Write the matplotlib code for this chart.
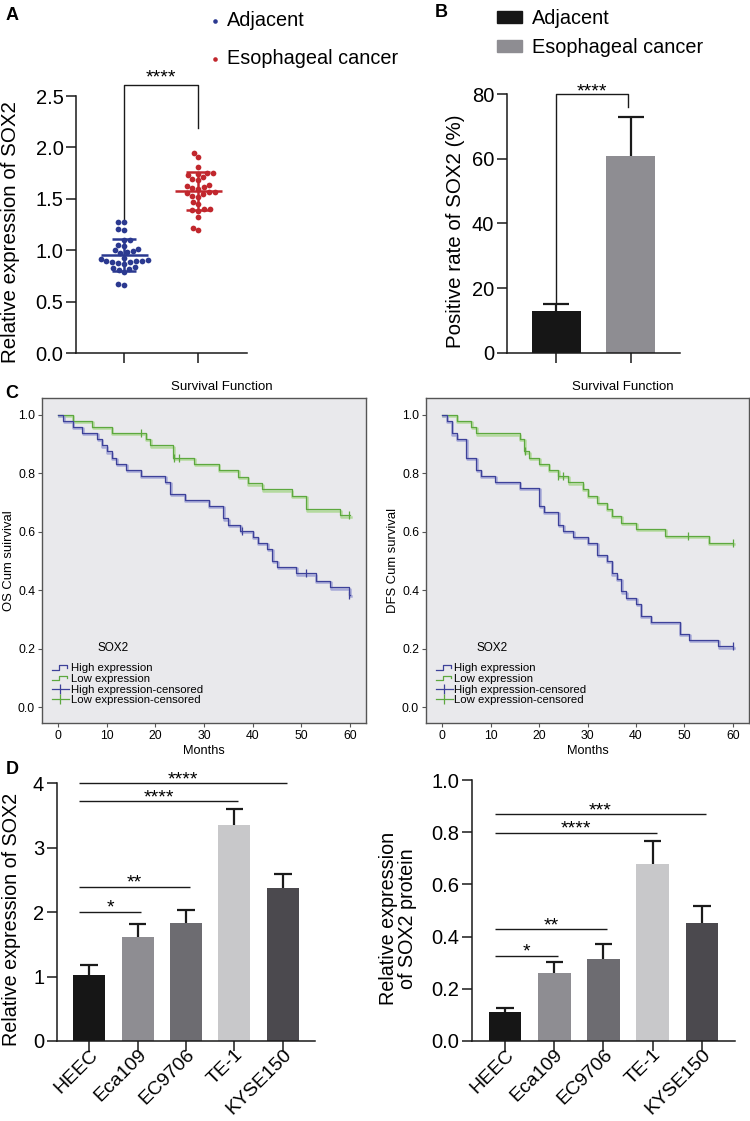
import numpy as np
import matplotlib
matplotlib.use("Agg")
import matplotlib.pyplot as plt
from matplotlib.lines import Line2D
from matplotlib.patches import Patch
from matplotlib.legend_handler import HandlerBase
from matplotlib import transforms

plt.rcParams["font.family"] = ["Liberation Sans", "DejaVu Sans"]

# ---- panel A: qPCR scatter ----
groups_a = ["Adjacent", "Esophageal cancer"]
adjacent_vals = [1.28, 1.28, 1.20, 1.21, 1.10, 1.10, 1.05, 1.04, 1.00, 0.99,
                 1.01, 0.98, 0.97, 0.93, 0.91, 0.90, 0.89, 0.90, 0.92, 0.90,
                 0.88, 0.89, 0.87, 0.83, 0.84, 0.81, 0.79, 0.82, 0.67, 0.66]
cancer_vals = [1.95, 1.91, 1.81, 1.75, 1.75, 1.73, 1.74, 1.71, 1.69, 1.68,
               1.64, 1.63, 1.62, 1.61, 1.60, 1.57, 1.56, 1.55, 1.57, 1.52,
               1.53, 1.47, 1.45, 1.40, 1.39, 1.38, 1.40, 1.32, 1.22, 1.20]

# ---- panel B: positive rate ----
rate_mean = [12.8, 60.9]
rate_err = [2.2, 12.2]

# ---- panel C: Kaplan-Meier (months, cumulative survival) ----
os_high_t = [0, 1, 3, 5, 8, 9, 10, 11, 12, 14, 17, 22, 23, 26, 31, 34, 35, 37.5,
             40, 41, 43, 44, 45, 49, 53, 56, 59.9]
os_high_s = [1.0, 0.979, 0.958, 0.938, 0.917, 0.896, 0.875, 0.854, 0.833, 0.813,
             0.792, 0.771, 0.729, 0.708, 0.688, 0.646, 0.625, 0.604, 0.583, 0.563,
             0.542, 0.500, 0.479, 0.458, 0.433, 0.410, 0.385]
os_high_cens = [37.8, 51, 59.9]
os_low_t = [0, 3, 7, 11, 18, 19, 23.7, 28, 33, 37, 39, 42, 48, 51, 58]
os_low_s = [1.0, 0.979, 0.958, 0.938, 0.917, 0.896, 0.854, 0.833, 0.812, 0.789,
            0.766, 0.745, 0.722, 0.677, 0.656]
os_low_cens = [17, 23.9, 24.9, 59.9]

dfs_high_t = [0, 1, 2, 3, 5, 7, 8, 11, 16, 20, 21, 24, 25, 27, 30, 32, 34, 35,
              36, 37, 38, 40, 41, 43, 49, 51, 57]
dfs_high_s = [1.0, 0.979, 0.937, 0.917, 0.854, 0.812, 0.792, 0.771, 0.75, 0.688,
              0.667, 0.625, 0.604, 0.583, 0.563, 0.521, 0.5, 0.458, 0.438, 0.396,
              0.375, 0.354, 0.313, 0.292, 0.25, 0.229, 0.208]
dfs_high_cens = [59.9]
dfs_low_t = [0, 3, 6, 7, 16, 17, 18, 20, 22, 24, 26, 29, 30, 32, 34, 35, 37, 40, 46, 55]
dfs_low_s = [1.0, 0.979, 0.958, 0.937, 0.917, 0.875, 0.854, 0.833, 0.812, 0.792,
             0.769, 0.746, 0.723, 0.70, 0.678, 0.655, 0.632, 0.609, 0.586, 0.563]
dfs_low_cens = [17.2, 24, 25, 50.8, 59.9]

# ---- panel D: cell lines ----
cell_lines = ["HEEC", "Eca109", "EC9706", "TE-1", "KYSE150"]
mrna_mean = [1.02, 1.62, 1.83, 3.35, 2.37]
mrna_err = [0.16, 0.20, 0.21, 0.25, 0.22]
mrna_sig = [(1, "*", 2.0), (2, "**", 2.39), (3, "****", 3.72), (4, "****", 4.0)]
prot_mean = [0.112, 0.262, 0.313, 0.677, 0.451]
prot_err = [0.013, 0.039, 0.057, 0.091, 0.068]
prot_sig = [(1, "*", 0.326), (2, "**", 0.428), (3, "****", 0.798), (4, "***", 0.868)]

bar_colors = ["#161616", "#8e8d92", "#6d6c71", "#c8c8ca", "#4b494e"]
BLUE_DOT, RED_DOT = "#2b3990", "#c1272d"
KM_BLUE, KM_BLUE_SH = "#3d4199", "#a7aad8"
KM_GREEN, KM_GREEN_SH = "#5da83f", "#b4da9e"

W, H = 750, 1121
fig = plt.figure(figsize=(W / 100, H / 100), dpi=100)


def px_axes(left, top, right, bottom):
    return fig.add_axes([left / W, 1 - bottom / H, (right - left) / W, (bottom - top) / H])


def prism_style(ax, fs=14.5):
    for side in ("top", "right"):
        ax.spines[side].set_visible(False)
    for side in ("left", "bottom"):
        ax.spines[side].set_linewidth(1.1)
        ax.spines[side].set_color("#1a1a1a")
    ax.tick_params(direction="out", length=7, width=1.1, labelsize=fs, pad=2, color="#1a1a1a")


def swarm(vals, ypu, xpu, d=5.6):
    vals = np.asarray(vals)
    offs = np.zeros(len(vals))
    placed = []
    cands = sorted(np.arange(-30, 31, 0.5), key=lambda c: (abs(c), c))
    for i in np.argsort(vals):
        y = vals[i] * ypu
        for c in cands:
            if all((c - px) ** 2 + (y - py) ** 2 >= d * d for px, py in placed):
                placed.append((c, y))
                offs[i] = c / xpu
                break
    return offs


def upper_err(ax, x, m, e, hw=0.18, lw=1.6):
    ax.vlines(x, m, np.asarray(m) + np.asarray(e), color="#1a1a1a", lw=lw)
    ax.hlines(np.asarray(m) + np.asarray(e), np.asarray(x) - hw, np.asarray(x) + hw,
              color="#1a1a1a", lw=lw)


def stars(ax, x, y, s, lift_px, fs=14):
    # asterisk glyph centre sits ~0.58 em above the baseline
    base = (lift_px - 0.58 * fs * 100 / 72) * 72 / 100
    ax.annotate(s, (x, y), xytext=(0, base), textcoords="offset points", ha="center",
                va="baseline", fontsize=fs, annotation_clip=False)


def panel_letter(x, y, s):
    fig.text(x / W, 1 - y / H, s, fontsize=13, fontweight="bold", va="top", ha="left")


# ================= A =================
axA = px_axes(76, 96, 247, 353.3)
prism_style(axA)
for i, (vals, col, name) in enumerate(zip([adjacent_vals, cancer_vals], [BLUE_DOT, RED_DOT], groups_a)):
    off = swarm(vals, 102.9, 74)
    axA.scatter(i + off, vals, s=17, color=col, lw=0, label=name, zorder=3)
    m, sd = np.mean(vals), np.std(vals, ddof=1)
    axA.hlines(m, i - 0.32, i + 0.32, color=col, lw=1.8, zorder=4)
    axA.vlines(i, m - sd, m + sd, color=col, lw=1.8, zorder=4)
    axA.hlines([m - sd, m + sd], i - 0.16, i + 0.16, color=col, lw=1.8, zorder=4)
axA.plot([0, 0, 1, 1], [1.3, 2.61, 2.61, 2.19], color="#1a1a1a", lw=1.0, clip_on=False)
stars(axA, 0.5, 2.61, "****", 13)
axA.set_xlim(-0.653, 1.658)
axA.set_ylim(0, 2.5)
axA.set_yticks(np.arange(0, 2.51, 0.5))
axA.set_yticklabels([f"{v:.1f}" for v in np.arange(0, 2.51, 0.5)])
axA.set_xticks([0, 1])
axA.set_xticklabels([])
axA.set_ylabel("Relative expression of SOX2", fontsize=14.8)
axA.yaxis.set_label_coords(-0.325, 0.47)
axA.legend(loc="upper left", bbox_to_anchor=(209 / W, 1 - 11 / H), bbox_transform=fig.transFigure,
           frameon=False, fontsize=14.3, handlelength=0.6, handletextpad=0.3, labelspacing=0.95,
           markerscale=0.8, borderpad=0, borderaxespad=0)

# ================= B =================
axB = px_axes(506.7, 94.3, 680, 352.7)
prism_style(axB)
xb = np.arange(2)
axB.bar(xb, rate_mean, width=0.66, color=[bar_colors[0], bar_colors[1]], label=groups_a, zorder=2)
upper_err(axB, xb, rate_mean, rate_err, hw=0.175)
axB.plot([0, 0, 0.96, 0.96], [15.8, 80, 80, 76], color="#1a1a1a", lw=1.0, clip_on=False)
stars(axB, 0.48, 80, "****", 9.5)
axB.set_xlim(-0.667, 1.663)
axB.set_ylim(0, 80)
axB.set_yticks(range(0, 81, 20))
axB.set_xticks(xb)
axB.set_xticklabels([])
axB.set_ylabel("Positive rate of SOX2 (%)", fontsize=14.8)
axB.yaxis.set_label_coords(-0.24, 0.47)
axB.legend(handles=[Patch(color=bar_colors[0]), Patch(color=bar_colors[1])], labels=groups_a,
           loc="upper left", bbox_to_anchor=(497 / W, 1 - 9 / H), bbox_transform=fig.transFigure,
           frameon=False, fontsize=14.3, handlelength=1.25, handleheight=0.55, handletextpad=0.5,
           labelspacing=0.5, borderpad=0, borderaxespad=0)


# ================= C =================
class StepHandler(HandlerBase):
    def create_artists(self, legend, orig_handle, xdescent, ydescent, width, height, fontsize, trans):
        xs = np.array([0.0, 0.45, 0.45, 0.9, 0.9]) * width - xdescent
        ys = np.array([0.2, 0.2, 0.75, 0.75, 0.45]) * height - ydescent
        ln = Line2D(xs, ys, color=orig_handle.get_color(), lw=0.9, transform=trans)
        return [ln]


def km_curve(ax, t, s, cens, color, shadow):
    tt = np.append(t, 60)
    ss = np.append(s, s[-1])
    sh = transforms.offset_copy(ax.transData, fig=fig, x=0.6, y=-1.2, units="dots")
    ax.step(tt, ss, where="post", color=shadow, lw=1.8, transform=sh, zorder=2)
    ax.step(tt, ss, where="post", color=color, lw=0.9, zorder=3)
    idx = np.searchsorted(t, cens, side="right") - 1
    ax.plot(cens, np.asarray(s)[idx], ls="none", marker="|", ms=6, mew=0.9, color=color, zorder=4)


def km_axes(ax, ylabel, title_x, sox_x):
    ax.set_facecolor("#e9e9ec")
    for sp in ax.spines.values():
        sp.set_color("#555555")
        sp.set_linewidth(1.0)
    ax.set_xlim(-3.3, 63.3)
    ax.set_ylim(-0.054, 1.058)
    ax.set_xticks(range(0, 61, 10))
    ax.set_yticks(np.arange(0, 1.01, 0.2))
    ax.set_yticklabels([f"{v:.1f}" for v in np.arange(0, 1.01, 0.2)])
    ax.tick_params(direction="out", length=3, width=0.8, labelsize=8.8, color="#555555", pad=2)
    ax.set_xlabel("Months", fontsize=9.2, labelpad=2)
    ax.set_ylabel(ylabel, fontsize=9.4, labelpad=2)
    ax.text(title_x, 1.014, "Survival Function", transform=ax.transAxes, ha="center",
            va="bottom", fontsize=9.5)
    ax.text(sox_x, 0.232, "SOX2", transform=ax.transAxes, ha="center", va="center", fontsize=8.5)
    h_hi = Line2D([], [], color=KM_BLUE, lw=0.9)
    h_lo = Line2D([], [], color=KM_GREEN, lw=0.9)
    h_hic = Line2D([], [], color=KM_BLUE, lw=0.9, marker="|", ms=7, mew=0.9)
    h_loc = Line2D([], [], color=KM_GREEN, lw=0.9, marker="|", ms=7, mew=0.9)
    ax.legend([h_hi, h_lo, h_hic, h_loc],
              ["High expression", "Low expression", "High expression-censored", "Low expression-censored"],
              fontsize=8.2, loc="lower left", bbox_to_anchor=(0.03, 0.055),
              frameon=False, handlelength=1.5, handletextpad=0.15, labelspacing=0.05,
              borderpad=0, borderaxespad=0, handler_map={h_hi: StepHandler(), h_lo: StepHandler()})


axCl = px_axes(42, 398, 366, 723)
km_curve(axCl, os_low_t, os_low_s, os_low_cens, KM_GREEN, KM_GREEN_SH)
km_curve(axCl, os_high_t, os_high_s, os_high_cens, KM_BLUE, KM_BLUE_SH)
km_axes(axCl, "OS Cum suirvival", 0.555, 0.219)

axCr = px_axes(426, 398, 749, 723)
km_curve(axCr, dfs_low_t, dfs_low_s, dfs_low_cens, KM_GREEN, KM_GREEN_SH)
km_curve(axCr, dfs_high_t, dfs_high_s, dfs_high_cens, KM_BLUE, KM_BLUE_SH)
km_axes(axCr, "DFS Cum survival", 0.609, 0.206)


# ================= D =================
def cell_bars(ax, means, errs, sigs, ylim, yticks, fmt, ylabel, label_x, xl, xr):
    prism_style(ax)
    x = np.arange(len(cell_lines))
    ax.bar(x, means, width=0.66, color=bar_colors, zorder=2)
    upper_err(ax, x, means, errs, hw=0.18)
    for j, star, y in sigs:
        ax.hlines(y, -0.2, j + 0.08, color="#1a1a1a", lw=1.0, clip_on=False)
        stars(ax, (j - 0.12) / 2, y, star, 10.5)
    ax.set_xlim(xl, xr)
    ax.set_ylim(0, ylim)
    ax.set_yticks(yticks)
    ax.set_yticklabels([fmt.format(v) for v in yticks])
    ax.set_xticks(x)
    ax.tick_params(axis="x", pad=1)
    ax.set_xticklabels(cell_lines, rotation=45, ha="right", va="center",
                       rotation_mode="anchor", fontsize=14)
    shift = transforms.ScaledTranslation(6 / 100, 0, fig.dpi_scale_trans)
    for lab in ax.get_xticklabels():
        lab.set_transform(lab.get_transform() + shift)
    ax.set_ylabel(ylabel, fontsize=14.2, linespacing=1.0)
    ax.yaxis.set_label_coords(label_x, 0.47)


axDl = px_axes(56.7, 783.3, 315, 1041)
cell_bars(axDl, mrna_mean, mrna_err, mrna_sig, 4, [0, 1, 2, 3, 4], "{:.0f}",
          "Relative expression of SOX2", -0.138, -0.671, 4.665)
axDr = px_axes(471.7, 780, 735, 1041)
cell_bars(axDr, prot_mean, prot_err, prot_sig, 1.0, np.arange(0, 1.01, 0.2), "{:.1f}",
          "Relative expression\nof SOX2 protein", -0.208, -0.684, 4.678)

panel_letter(6, 7, "A")
panel_letter(435, 4, "B")
panel_letter(5, 385, "C")
panel_letter(6, 761, "D")

fig.savefig("out.png", dpi=100)
